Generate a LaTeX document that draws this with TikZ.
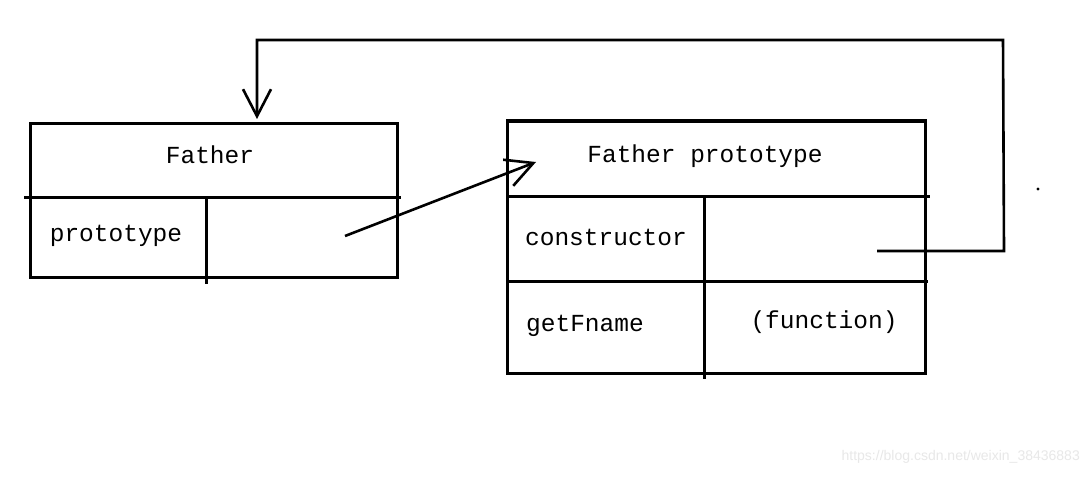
\documentclass[tikz,border=0pt]{standalone}
\usepackage{fontspec}
\setmainfont{Liberation Mono}
\newfontfamily\wmfont{Liberation Sans}
\usetikzlibrary{arrows.meta}
\begin{document}
\begin{tikzpicture}[x=1pt,y=-1pt,
  ln/.style={line width=3pt,line cap=rect},
  conn/.style={line width=2.6pt,-{Straight Barb[length=27pt,width=28pt,line width=2.6pt]}},
  lbl/.style={font=\fontsize{24.5}{24}\selectfont,inner sep=0pt}]
\useasboundingbox[fill=white] (0,0) rectangle (1091,476);
% Father box
\draw[ln] (30,123) rectangle (397,277);
\draw[ln] (25,197) -- (399,197);
\draw[ln] (206,197) -- (206,282);
\node[lbl] (fa) at (210,155) {Father};
\node[lbl] (fap) at (116,236) {prototype};
\coordinate (faslot) at (345,236);
% Father prototype box
\draw[ln] (507,121) rectangle (925,373);
\draw[ln] (507,196) -- (928,196);
\draw[ln] (507,281) -- (926,281);
\draw[ln] (704,196) -- (704,377);
\node[lbl] (fp) at (705,156) {Father prototype};
\node[lbl] (con) at (606,237) {constructor};
\node[lbl] (gf) at (585,326) {getFname};
\node[lbl] (fn) at (824,322) {(function)};
\coordinate (fptarget) at (536,162);
\coordinate (conslot) at (877,251);
\coordinate (c1) at (1004,251);
\coordinate (c2) at (1003,40);
\coordinate (c3) at (257,40);
\coordinate (fatarget) at (257,119);
% connectors
\draw[conn] (faslot) -- (fptarget);
\draw[conn,line join=miter] (conslot) -- (c1) -- (c2) -- (c3) -- (fatarget);
% stray dot
\fill (1038,189) circle (1.6);
% watermark
\node[font=\wmfont\fontsize{14}{14}\selectfont,text=black!9,anchor=east,inner sep=0pt] (wm) at (1080,457) {https://blog.csdn.net/weixin\_38436883};
\end{tikzpicture}
\end{document}
